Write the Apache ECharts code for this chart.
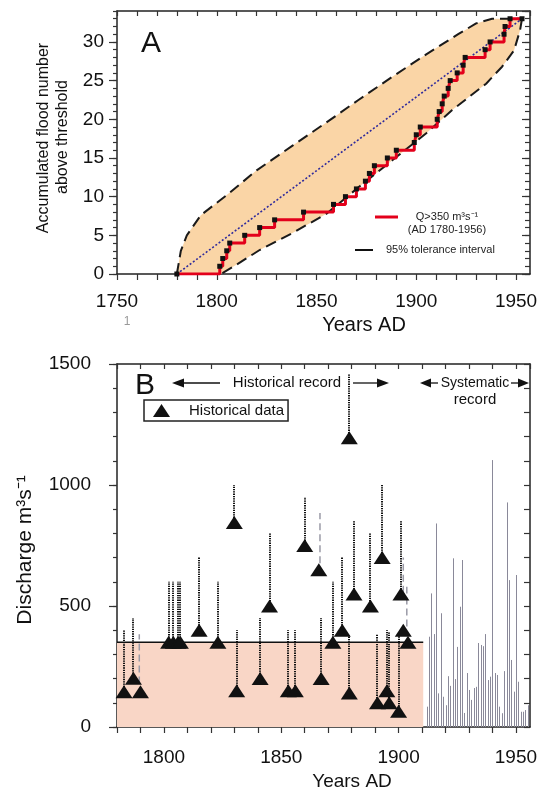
<!DOCTYPE html>
<html><head><meta charset="utf-8">
<script src="https://cdn.jsdelivr.net/npm/echarts/dist/echarts.min.js"></script>
<style>html,body{margin:0;padding:0;background:#fff}#c{width:542px;height:794px}</style>
</head><body><div id="c"></div>
<script>
// ---------- Panel A data ----------
const stepYears  = [1780,1801.5,1803,1805,1806.5,1814,1821.5,1829,1843.5,1858.5,1864.5,1870,1874.5,1876.5,1879,1885.5,1890,1899,1900,1902,1910.5,1911.5,1913,1914,1916,1917,1920.5,1923.5,1924.5,1934.5,1937,1944,1944.5,1947,1953];
const stepCounts = [0,1,2,3,4,5,6,7,8,9,10,11,12,13,14,15,16,17,18,19,20,21,22,23,24,25,26,27,28,29,30,31,32,33,33];
const upperYears = [1780,1782,1785,1792,1805,1820,1838,1855,1871,1888,1905,1921,1930,1938,1953];
const upperCounts= [0,3,5,7.6,10.2,13.4,16.6,19.6,22.5,25.5,28.4,31,32.4,33,33];
const lowerYears = [1953,1952,1949,1943,1935,1926.5,1918,1905,1888,1871.5,1855,1838,1821.5,1808,1802];
const lowerCounts= [33,31.5,28.9,26.8,24.6,22.9,21.2,18.2,14.7,11.3,7.8,5.3,3.1,0.9,0];
const expYears   = [1780,1953];
const expCounts  = [0,33];
const aXLabels = [1750,1800,1850,1900,1950];
const aYLabels = [0,5,10,15,20,25,30];

// ---------- Panel B data ----------
const histYears = [1783,1787,1790,1802,1804,1806,1807,1815,1823,1830,1831,1841,1845,1853,1856,1860,1866,1867,1872,1876,1879,1879,1881,1888,1891,1893,1895,1896,1900,1901,1902,1904];
const histQ     = [146,201,146,350,350,350,350,400,350,845,150,200,500,150,150,750,650,200,350,400,1195,140,550,500,100,700,150,100,65,550,400,350];
const histUpper = [400,450,null,600,600,600,600,700,600,1000,400,450,800,400,400,950,null,450,600,700,1460,380,850,800,385,1000,400,390,375,850,null,null];
const grayYears = [1789.5,1866.5,1902,1903.5];
const grayLow   = [180,677,555,415];
const grayHigh  = [383,884,700,580];
const sysYears = [1912,1913,1914,1915,1916,1917,1918,1919,1920,1921,1922,1923,1924,1925,1926,1927,1928,1929,1930,1931,1932,1933,1934,1935,1936,1937,1938,1939,1940,1941,1942,1943,1944,1945,1946,1947,1948,1949,1950,1951,1952,1953,1954,1955];
const sysQ     = [84,373,552,384,841,139,470,125,90,210,170,697,198,331,497,690,58,223,153,112,161,166,347,339,334,384,194,208,1103,223,215,84,57,231,928,607,277,146,628,187,63,63,70,90];
const thresholdYears = [1780,1910.5];
const thresholdQ     = [350,350];
const bXLabels = [1800,1850,1900,1950];
const bYLabels = [0,500,1000,1500];

const FONT = "'Liberation Sans', Arial, Helvetica, sans-serif";
const zip = (a,b) => a.map((v,i)=>[v,b[i]]);
const AX = {color:'#222', width:1.5};
const TK = {color:'#333', width:1.2};

function xAx(grid, min, max, pos, labels, margin){
  return {gridIndex:grid, type:'value', min:min, max:max, interval:10, position:pos,
    axisLine:{show:true,onZero:false,lineStyle:AX},
    axisTick:{show:true,inside:pos==='top',length:pos==='top'?5:6,lineStyle:TK},
    axisLabel:labels?{show:true,formatter:v=>labels.includes(v)?String(v):'',fontSize:19,color:'#111',fontFamily:FONT,margin:margin,showMaxLabel:false}:{show:false},
    splitLine:{show:false}};
}
function yAx(grid, max, interval, pos, opts){
  return Object.assign({gridIndex:grid, type:'value', min:0, max:max, interval:interval, position:pos,
    axisLine:{show:true,onZero:false,lineStyle:AX},
    axisTick:{show:true,inside:pos==='right',length:6,lineStyle:TK},
    axisLabel:{show:false}, splitLine:{show:false}}, opts||{});
}

const option = {
  animation:false,
  backgroundColor:'#fff',
  textStyle:{fontFamily:FONT},
  grid:[
    {left:117, top:11, width:413, height:263},
    {left:117, top:364, width:413, height:363}
  ],
  xAxis:[
    xAx(0,1750,1957,'bottom',aXLabels,18),
    xAx(0,1750,1957,'top',null),
    xAx(1,1780,1956,'bottom',bXLabels,21),
    xAx(1,1780,1956,'top',null)
  ],
  yAxis:[
    yAx(0,34,5,'left',{axisTick:{show:true,length:8,lineStyle:TK},axisLabel:{show:true,formatter:v=>aYLabels.includes(v)?String(v):'',fontSize:19,color:'#111',fontFamily:FONT,margin:13,showMaxLabel:false}}),
    yAx(0,34,1,'left',{axisLine:{show:false},axisTick:{show:true,length:4,lineStyle:TK}}),
    yAx(0,34,1,'right',{axisTick:{show:true,inside:true,length:5,lineStyle:TK}}),
    yAx(0,34,5,'right',{axisLine:{show:false},axisTick:{show:true,inside:true,length:8,lineStyle:TK}}),
    yAx(1,1500,500,'left',{axisTick:{show:true,length:8,lineStyle:TK},axisLabel:{show:true,formatter:v=>bYLabels.includes(v)?String(v):'',fontSize:19,color:'#111',fontFamily:FONT,margin:26}}),
    yAx(1,1500,100,'left',{axisLine:{show:false},axisTick:{show:true,length:4,lineStyle:TK}}),
    yAx(1,1500,100,'right',{axisTick:{show:true,inside:true,length:6,lineStyle:TK}})
  ],
  legend:{
    data:['Historical data'], left:144, top:400, orient:'horizontal',
    itemWidth:17, itemHeight:13, icon:'triangle', selectedMode:false,
    padding:[3,4,3,9], borderColor:'#222', borderWidth:1.5, backgroundColor:'#fff',
    textStyle:{fontSize:15,color:'#111',fontFamily:FONT,padding:[0,0,0,14],lineHeight:14}
  },
  series:[
    // Panel A: tolerance band fill
    {type:'custom', name:'band', xAxisIndex:0, yAxisIndex:0, silent:true, z:1,
     data:[[upperYears[0],upperCounts[0]]],
     renderItem:(p,api)=>{
       const pts = zip(upperYears,upperCounts).concat(zip(lowerYears,lowerCounts)).map(q=>api.coord(q));
       return {type:'polygon', shape:{points:pts}, style:{fill:'#FAD5A6'}};
     }},
    {type:'line', name:'upper', xAxisIndex:0, yAxisIndex:0, data:zip(upperYears,upperCounts), symbol:'none', z:3,
     lineStyle:{color:'#1a1a1a', width:2, type:[11,6]}},
    {type:'line', name:'lower', xAxisIndex:0, yAxisIndex:0, data:zip(lowerYears,lowerCounts), symbol:'none', z:3,
     lineStyle:{color:'#1a1a1a', width:2, type:[11,6]}},
    {type:'line', name:'expected', xAxisIndex:0, yAxisIndex:0, data:zip(expYears,expCounts), symbol:'none', z:3,
     lineStyle:{color:'#2f2a9c', width:1.6, type:[2,2]}},
    {type:'line', name:'Q>350', xAxisIndex:0, yAxisIndex:0, data:zip(stepYears,stepCounts), step:'end', z:4,
     symbol:'rect', symbolSize:5, showSymbol:true, itemStyle:{color:'#111'},
     lineStyle:{color:'#e3001b', width:3}},
    // Panel B: threshold area
    {type:'line', name:'threshold', xAxisIndex:2, yAxisIndex:4, data:zip(thresholdYears,thresholdQ), symbol:'none', z:1,
     lineStyle:{color:'#111', width:1.5}, areaStyle:{color:'#F9D6C6', opacity:1}},
    // systematic record
    {type:'custom', name:'systematic', xAxisIndex:2, yAxisIndex:4, z:2,
     data:zip(sysYears,sysQ), encode:{x:0,y:1},
     renderItem:(p,api)=>{
       const t = api.coord([api.value(0),api.value(1)]);
       const b = api.coord([api.value(0),0]);
       const x = Math.round(t[0]) + 0.5;
       return {type:'line', shape:{x1:x,y1:t[1],x2:x,y2:b[1]}, style:{stroke:'#8a8999', lineWidth:1}};
     }},
    // uncertainty ranges (dotted)
    {type:'custom', name:'ranges', xAxisIndex:2, yAxisIndex:4, z:3,
     data:histYears.map((y,i)=>[y,histQ[i],histUpper[i]==null?histQ[i]:histUpper[i]]), encode:{x:0,y:[1,2]},
     renderItem:(p,api)=>{
       if (api.value(2) <= api.value(1)) return null;
       const a = api.coord([api.value(0),api.value(1)]);
       const b = api.coord([api.value(0),api.value(2)]);
       const x = Math.round(a[0]);
       return {type:'line', shape:{x1:x,y1:a[1],x2:x,y2:b[1]}, style:{stroke:'#111', lineWidth:2, lineDash:[1.3,1]}};
     }},
    // gray dashed ranges
    {type:'custom', name:'grayRanges', xAxisIndex:2, yAxisIndex:4, z:3,
     data:grayYears.map((y,i)=>[y,grayLow[i],grayHigh[i]]), encode:{x:0,y:[1,2]},
     renderItem:(p,api)=>{
       const a = api.coord([api.value(0),api.value(1)]);
       const b = api.coord([api.value(0),api.value(2)]);
       return {type:'line', shape:{x1:a[0],y1:a[1],x2:a[0],y2:b[1]}, style:{stroke:'#9a9aa6', lineWidth:1.5, lineDash:[7,4]}};
     }},
    {type:'scatter', name:'Historical data', xAxisIndex:2, yAxisIndex:4, z:5,
     data:zip(histYears,histQ), symbol:'triangle', symbolSize:[17,13],
     itemStyle:{color:'#111', opacity:1}}
  ],
  graphic:[
    {type:'text', x:151, y:44, z:100, style:{text:'A', font:'30px '+FONT, fill:'#111', align:'center', verticalAlign:'middle'}},
    {type:'text', x:145, y:386, z:100, style:{text:'B', font:'30px '+FONT, fill:'#111', align:'center', verticalAlign:'middle'}},
    // Panel A axis titles
    {type:'text', x:44, y:138, rotation:Math.PI/2, z:100, style:{text:'Accumulated flood number', font:'16px '+FONT, fill:'#111', align:'center', verticalAlign:'middle'}},
    {type:'text', x:63, y:137, rotation:Math.PI/2, z:100, style:{text:'above threshold', font:'16px '+FONT, fill:'#111', align:'center', verticalAlign:'middle'}},
    {type:'text', x:364, y:325, z:100, style:{text:'Years AD', font:'20px '+FONT, fill:'#111', align:'center', verticalAlign:'middle'}},
    {type:'text', x:127, y:322, z:100, style:{text:'1', font:'12px '+FONT, fill:'#999', align:'center', verticalAlign:'middle'}},
    // Panel A legend
    {type:'line', z:100, shape:{x1:375,y1:217,x2:398,y2:217}, style:{stroke:'#e3001b', lineWidth:3}},
    {type:'text', x:447, y:217, z:100, style:{text:'Q>350 m\u00b3s\u207b\u00b9', font:'11px '+FONT, fill:'#222', align:'center', verticalAlign:'middle'}},
    {type:'text', x:447, y:230, z:100, style:{text:'(AD 1780-1956)', font:'11px '+FONT, fill:'#222', align:'center', verticalAlign:'middle'}},
    {type:'line', z:100, shape:{x1:355,y1:250,x2:373,y2:250}, style:{stroke:'#111', lineWidth:2}},
    {type:'text', x:386, y:250, z:100, style:{text:'95% tolerance interval', font:'11px '+FONT, fill:'#222', align:'left', verticalAlign:'middle'}},
    // Panel B titles
    {type:'text', x:25, y:550, rotation:Math.PI/2, z:100, style:{text:'Discharge m\u00b3s\u207b\u00b9', font:'21px '+FONT, fill:'#111', align:'center', verticalAlign:'middle'}},
    {type:'text', x:352, y:782, z:100, style:{text:'Years AD', font:'19px '+FONT, fill:'#111', align:'center', verticalAlign:'middle'}},
    // Historical record arrow
    {type:'line', z:100, shape:{x1:180,y1:383,x2:220,y2:383}, style:{stroke:'#111', lineWidth:1.3}},
    {type:'polygon', z:100, shape:{points:[[172,383],[184,378.5],[184,387.5]]}, style:{fill:'#111'}},
    {type:'text', x:287, y:383, z:100, style:{text:'Historical record', font:'15px '+FONT, fill:'#111', align:'center', verticalAlign:'middle'}},
    {type:'line', z:100, shape:{x1:353,y1:383,x2:380,y2:383}, style:{stroke:'#111', lineWidth:1.3}},
    {type:'polygon', z:100, shape:{points:[[389,383],[377,378.5],[377,387.5]]}, style:{fill:'#111'}},
    // Systematic record arrow
    {type:'polygon', z:100, shape:{points:[[420,383],[431,378.5],[431,387.5]]}, style:{fill:'#111'}},
    {type:'line', z:100, shape:{x1:430,y1:383,x2:438,y2:383}, style:{stroke:'#111', lineWidth:1.3}},
    {type:'text', x:475, y:383, z:100, style:{text:'Systematic', font:'14px '+FONT, fill:'#111', align:'center', verticalAlign:'middle'}},
    {type:'line', z:100, shape:{x1:511,y1:383,x2:520,y2:383}, style:{stroke:'#111', lineWidth:1.3}},
    {type:'polygon', z:100, shape:{points:[[529,383],[518,378.5],[518,387.5]]}, style:{fill:'#111'}},
    {type:'text', x:475, y:400, z:100, style:{text:'record', font:'15px '+FONT, fill:'#111', align:'center', verticalAlign:'middle'}}
  ]
};
const chart = echarts.init(document.getElementById('c'), null, {renderer:'canvas'});
chart.setOption(option);
</script></body></html>
